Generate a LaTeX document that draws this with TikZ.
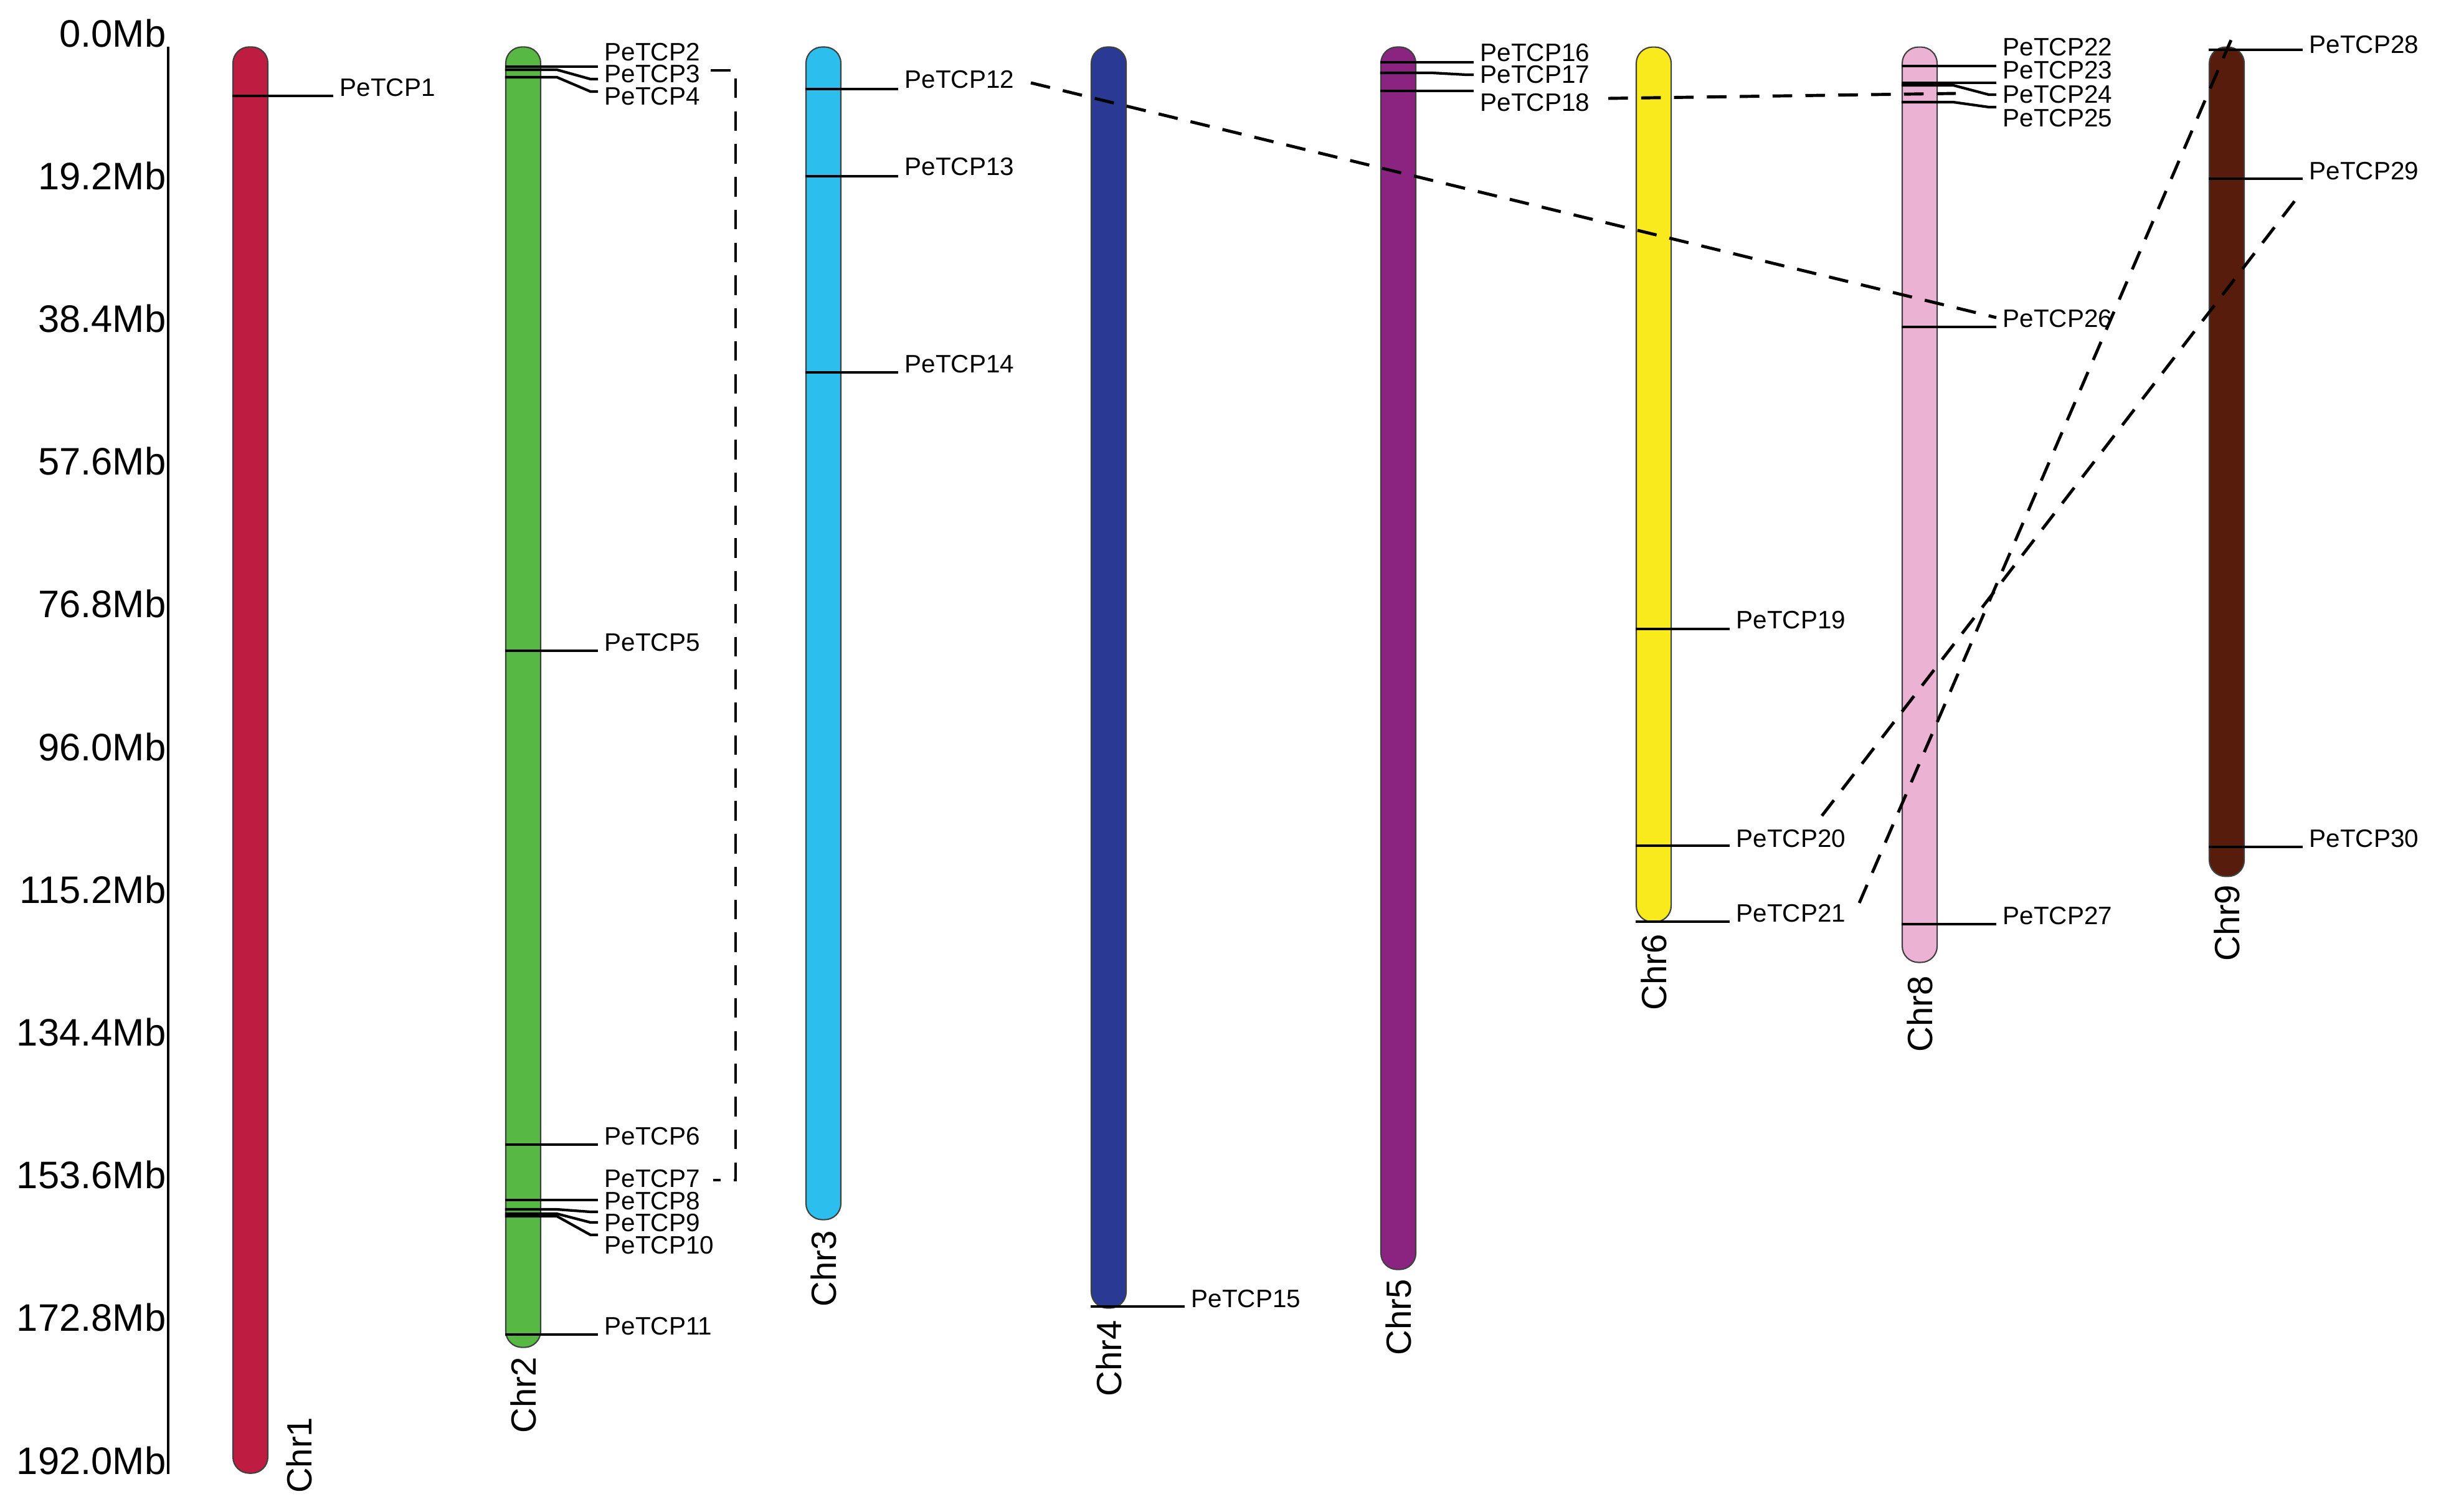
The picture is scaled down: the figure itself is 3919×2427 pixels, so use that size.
\documentclass[tikz,border=0pt]{standalone}
\usepackage{fontspec}
\setmainfont{Liberation Sans}
\usetikzlibrary{calc}

\definecolor{chrone}{RGB}{190,28,64}
\definecolor{chrtwo}{RGB}{88,184,68}
\definecolor{chrthree}{RGB}{44,190,236}
\definecolor{chrfour}{RGB}{42,58,148}
\definecolor{chrfive}{RGB}{138,36,128}
\definecolor{chrsix}{RGB}{248,234,28}
\definecolor{chreight}{RGB}{236,178,212}
\definecolor{chrnine}{RGB}{88,28,12}

% chromosome node, tick y, line end y, label y, label x, number
\newcommand{\gene}[6]{%
    \node[glab] (g#6) at (#5,#4) {PeTCP#6};
    \draw[genetick] (#1.west |- 0,#2) -- ($(#1.east |- 0,#2)+(25,0)$) -- (#5-22,#3) -- (#5-10,#3);
}

\begin{document}
\begin{tikzpicture}
[
    x = 0.01cm, y = -0.01cm,
    chrom/.style = {draw=black!75, line width=0.6pt, rounded corners=2.6mm, minimum width=5.6mm, inner sep=0pt},
    glab/.style = {anchor=west, inner sep=0pt, font=\fontsize{11.5}{12}\selectfont},
    mblab/.style = {anchor=base east, inner sep=0pt, font=\fontsize{17.5}{18}\selectfont},
    chrlab/.style = {rotate=90, anchor=east, inner sep=0pt, font=\fontsize{16}{17}\selectfont},
    genetick/.style = {line width=1.2pt},
    dupl/.style = {line width=1.4pt, dash pattern=on 9pt off 6pt},
]
    \useasboundingbox (0,0) rectangle (3919,2427);

    \coordinate (atop) at (270,75);
    \coordinate (abot) at (270,2367);
    \draw[line width=1pt] (atop) -- (abot);
    \foreach \v [count=\i from 0] in {0.0,19.2,38.4,57.6,76.8,96.0,115.2,134.4,153.6,172.8,192.0}
        \node[mblab] (m\i) at (267,75+229.2*\i) {\v Mb};

    \node[chrom, fill=chrone, minimum height=22.89cm] (c1) at (402,1220.5) {};
    \node[chrom, fill=chrtwo, minimum height=20.87cm] (c2) at (840,1119.5) {};
    \node[chrom, fill=chrthree, minimum height=18.82cm] (c3) at (1322,1017) {};
    \node[chrom, fill=chrfour, minimum height=20.24cm] (c4) at (1780,1088) {};
    \node[chrom, fill=chrfive, minimum height=19.62cm] (c5) at (2245,1057) {};
    \node[chrom, fill=chrsix, minimum height=14.04cm] (c6) at (2655,778) {};
    \node[chrom, fill=chreight, minimum height=14.69cm] (c8) at (3082,810.5) {};
    \node[chrom, fill=chrnine, minimum height=13.31cm] (c9) at (3575,741.5) {};

    \node[chrlab] (n1) at (480,2275) {Chr1};
    \node[chrlab] (n2) at ($(c2.south)+(0,14)$) {Chr2};
    \node[chrlab] (n3) at ($(c3.south)+(0,16)$) {Chr3};
    \node[chrlab] (n4) at ($(c4.south)+(0,18)$) {Chr4};
    \node[chrlab] (n5) at ($(c5.south)+(0,14)$) {Chr5};
    \node[chrlab] (n6) at ($(c6.south)+(0,18)$) {Chr6};
    \node[chrlab] (n8) at ($(c8.south)+(0,20)$) {Chr8};
    \node[chrlab] (n9) at ($(c9.south)+(0,12)$) {Chr9};

    \gene{c1}{154}{154}{141}{545}{1}
    \gene{c2}{107}{107}{84}{970}{2}
    \gene{c2}{112}{127}{119}{970}{3}
    \gene{c2}{124}{147}{155}{970}{4}
    \gene{c2}{1045}{1045}{1032}{970}{5}
    \gene{c2}{1838}{1838}{1825}{970}{6}
    \gene{c2}{1927}{1927}{1893}{970}{7}
    \gene{c2}{1942}{1946}{1929}{970}{8}
    \gene{c2}{1949}{1963}{1964}{970}{9}
    \gene{c2}{1953}{1983}{2000}{970}{10}
    \gene{c2}{2143}{2143}{2130}{970}{11}
    \gene{c3}{143}{143}{128}{1452}{12}
    \gene{c3}{283}{283}{268}{1452}{13}
    \gene{c3}{598}{598}{585}{1452}{14}
    \gene{c4}{2098}{2098}{2086}{1912}{15}
    \gene{c5}{100}{100}{85}{2376}{16}
    \gene{c5}{117}{120}{120}{2376}{17}
    \gene{c5}{146}{146}{165}{2376}{18}
    \gene{c6}{1010}{1010}{996}{2787}{19}
    \gene{c6}{1358}{1358}{1347}{2787}{20}
    \gene{c6}{1480}{1480}{1467}{2787}{21}
    \gene{c8}{106}{106}{76}{3215}{22}
    \gene{c8}{133}{133}{113}{3215}{23}
    \gene{c8}{137}{152}{152}{3215}{24}
    \gene{c8}{164}{172}{190}{3215}{25}
    \gene{c8}{525}{525}{512}{3215}{26}
    \gene{c8}{1484}{1484}{1471}{3215}{27}
    \gene{c9}{80}{80}{72}{3707}{28}
    \gene{c9}{287}{287}{275}{3707}{29}
    \gene{c9}{1360}{1360}{1347}{3707}{30}

    \coordinate (d3) at (1141,113);
    \coordinate (d7) at (1145,1895);
    \coordinate (d12) at (1655,133);
    \coordinate (d26) at (3205,510);
    \coordinate (d18) at (2582,158);
    \coordinate (d24) at (3140,150);
    \coordinate (d21) at (2985,1450);
    \coordinate (d28) at (3582,64);
    \coordinate (d20) at (2925,1310);
    \coordinate (d29) at (3690,315);

    \draw[dupl] (d3) -- ++(40,0) |- (d7);
    \draw[dupl] (d12) -- (d26);
    \draw[dupl] (d18) -- (d24);
    \draw[dupl] (d21) -- (d28);
    \draw[dupl] (d20) -- (d29);
\end{tikzpicture}
\end{document}
